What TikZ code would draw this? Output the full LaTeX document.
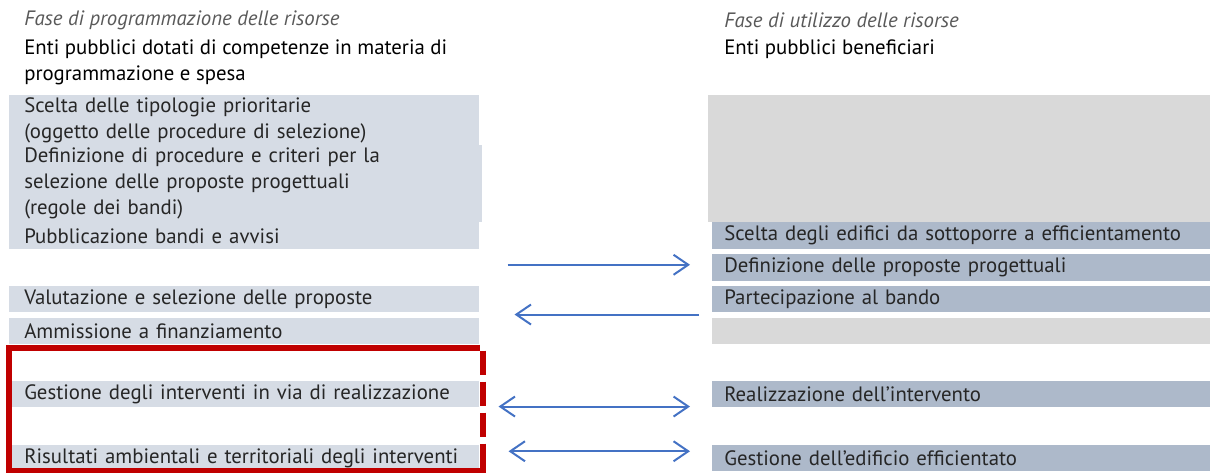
\documentclass[tikz,border=0pt]{standalone}
\usepackage{fontspec}
\setmainfont{PT Sans}
\usetikzlibrary{arrows.meta,calc}
\definecolor{progfill}{HTML}{D6DCE5}
\definecolor{benefill}{HTML}{ADB9CA}
\definecolor{emptyfill}{HTML}{D9D9D9}
\definecolor{framered}{HTML}{C00000}
\definecolor{linkblue}{HTML}{4472C4}
\definecolor{phasegray}{HTML}{595959}
\definecolor{bodygray}{HTML}{262626}
\newcommand\boxfont{\fontsize{15.6pt}{19.6pt}\selectfont}
\tikzset{
  >={Straight Barb[length=11pt,width=15pt]},
  progbox/.style={fill=progfill, anchor=north west, inner xsep=11.25pt, inner ysep=0pt, text width=330pt, align=left, minimum height=19.5pt, text=bodygray, font=\boxfont},
  benebox/.style={fill=benefill, anchor=north west, inner xsep=9pt, inner ysep=0pt, text width=355.5pt, align=left, minimum height=19.5pt, text=bodygray, font=\boxfont},
  emptybox/.style={fill=emptyfill, anchor=north west, inner sep=0pt},
  phase/.style={anchor=west, inner sep=0pt, font=\boxfont\itshape, text=phasegray},
  actor/.style={anchor=west, inner sep=0pt, align=left, text=black, font=\boxfont},
  flow/.style={draw=linkblue, line width=1.5pt, ->},
  twoway/.style={draw=linkblue, line width=1.5pt, <->},
  redframe/.style={draw=framered, line width=4.5pt},
}
\begin{document}
\begin{tikzpicture}[x=0.75pt, y=-0.75pt]
\useasboundingbox (0,0) rectangle (1210,472);
% headers
\node[phase] (faseprog) at (24,20) {Fase di programmazione delle risorse};
\node[actor] (entiprog) at (24,62) {Enti pubblici dotati di competenze in materia di\\programmazione e spesa};
\node[phase] (faseutil) at (724,20) {Fase di utilizzo delle risorse};
\node[actor] (entibene) at (724,49) {Enti pubblici beneficiari};

% programmazione
\node[progbox, minimum height=37.5pt] (scelta) at (9,95) {Scelta delle tipologie prioritarie\\(oggetto delle procedure di selezione)};
\node[progbox, text width=332.25pt, minimum height=57.75pt] (criteri) at (9,145) {Definizione di procedure e criteri per la\\selezione delle proposte progettuali\\(regole dei bandi)};
\node[progbox, minimum height=20.25pt] (bandi) at (9,222) {Pubblicazione bandi e avvisi};
\node[progbox] (valuta) at (9,286) {Valutazione e selezione delle proposte};
\node[progbox] (ammiss) at (9,318) {Ammissione a finanziamento};
\node[progbox] (gestint) at (9,381) {Gestione degli interventi in via di realizzazione};
\node[progbox] (risult) at (9,445) {Risultati ambientali e territoriali degli interventi};

% utilizzo
\node[emptybox, minimum width=376.5pt, minimum height=95.25pt] (vuoto1) at (708,95) {};
\node[benebox, minimum height=20.25pt] (edifici) at (712,222) {Scelta degli edifici da sottoporre a efficientamento};
\node[benebox, minimum height=20.25pt] (proposte) at (712,254) {Definizione delle proposte progettuali};
\node[benebox] (bando) at (712,286) {Partecipazione al bando};
\node[emptybox, minimum width=373.5pt, minimum height=19.5pt] (vuoto2) at (712,318) {};
\node[benebox] (realizz) at (712,381) {Realizzazione dell’intervento};
\node[benebox] (gestedif) at (712,445) {Gestione dell’edificio efficientato};

% frecce
\draw[flow] ($(bandi.east |- proposte.west)+(28,-3)$) -- ($(proposte.west)+(-22,-3)$);
\draw[flow] ($(bando.south west)+(-13,2)$) -- ($(valuta.south east)+(35,2)$);
\draw[twoway] ($(gestint.south east)+(19,-1)$) -- ($(realizz.south west)+(-22,-1)$);
\draw[twoway] ($(risult.east)+(29,-7)$) -- ($(gestedif.west)+(-22,-7)$);

% riquadro rosso
\draw[redframe] ($(ammiss.south east)+(0,3)$) -- ($(ammiss.south west)+(0,3)$)
  -- ($(risult.south west)+(0,-1)$) -- ($(risult.south east)+(6,-1)$);
\draw[redframe, dash pattern=on 18pt off 5.25pt] ($(ammiss.south east)+(3,6)$) -- ($(risult.south east)+(3,-4)$);
\end{tikzpicture}
\end{document}
